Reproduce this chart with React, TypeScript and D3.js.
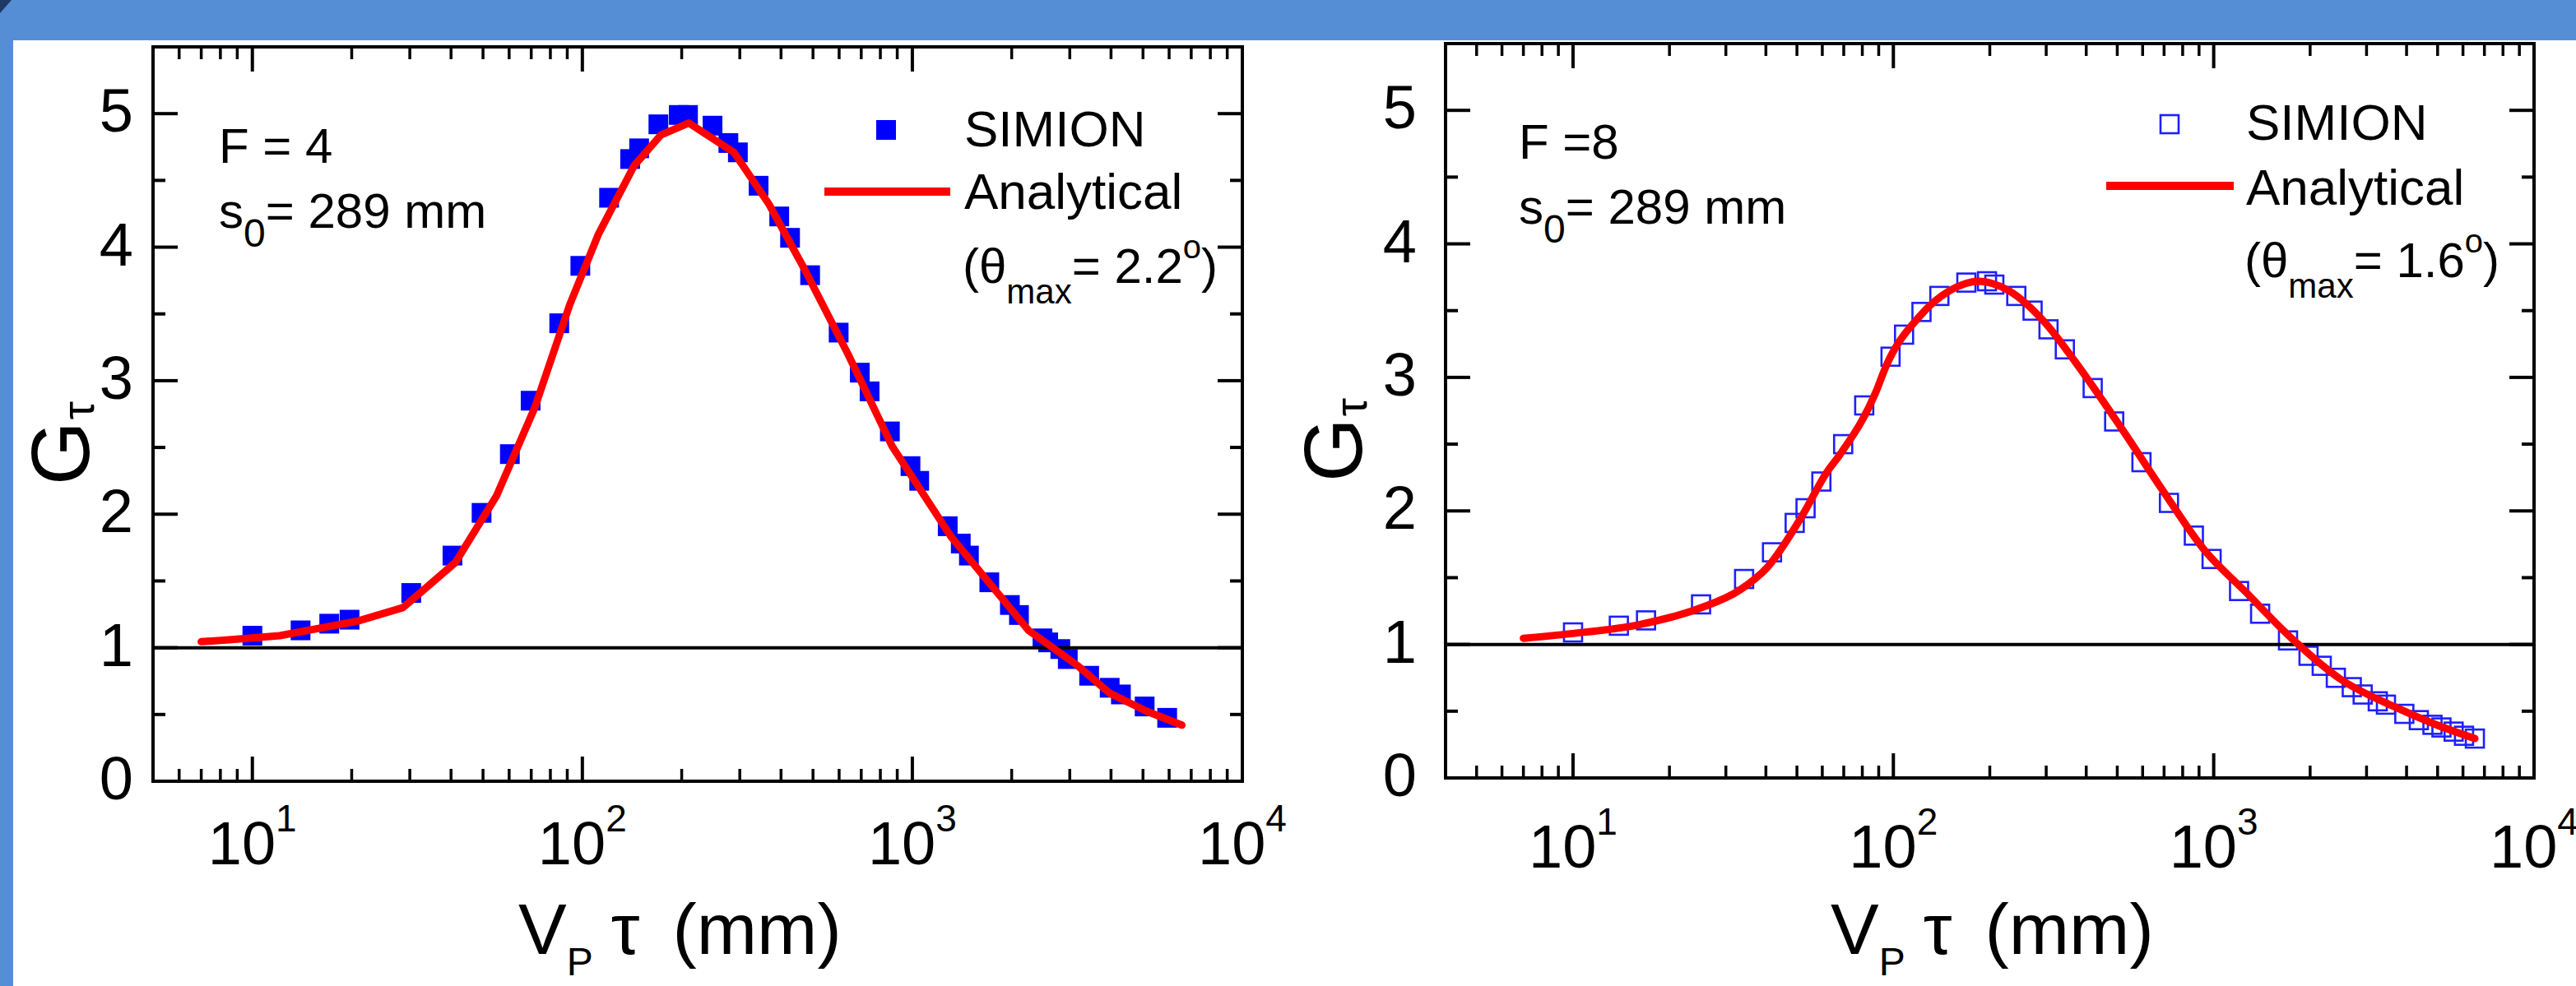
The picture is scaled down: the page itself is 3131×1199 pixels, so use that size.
import React from "react";
import * as d3 from "d3";

// F = 4 panel (filled squares)
const leftSimX = [10, 14, 17.1, 19.7, 30.3, 40.4, 49.5, 60.3, 69.7, 85.1, 98.6, 120.5, 139.6, 148.6, 170, 196, 209, 248, 277, 296, 342, 395, 426, 490, 598, 693, 742, 855, 987, 1049, 1280, 1402, 1484, 1711, 1975, 2104, 2479, 2580, 2808, 2958, 3434, 3963, 4286, 5058, 5918];
const leftSimY = [1.09, 1.13, 1.18, 1.21, 1.41, 1.69, 2.01, 2.45, 2.85, 3.43, 3.86, 4.37, 4.66, 4.74, 4.92, 4.99, 4.99, 4.91, 4.78, 4.71, 4.46, 4.23, 4.07, 3.79, 3.36, 3.06, 2.92, 2.62, 2.36, 2.25, 1.91, 1.78, 1.69, 1.49, 1.32, 1.245, 1.07, 1.04, 0.99, 0.915, 0.79, 0.7, 0.65, 0.56, 0.475];
const leftFitX = [7, 8.5, 12.1, 20.9, 28.6, 41.3, 55, 71.8, 91.6, 112, 143.5, 173, 210, 288, 368, 470, 638, 868, 1311, 1395, 2250, 3174, 3960, 5120, 6560];
const leftFitY = [1.045, 1.06, 1.09, 1.2, 1.3, 1.64, 2.14, 2.8, 3.57, 4.1, 4.61, 4.84, 4.93, 4.71, 4.32, 3.84, 3.2, 2.51, 1.83, 1.75, 1.13, 0.864, 0.66, 0.525, 0.42];

// F = 8 panel (open squares)
const rightSimX = [10, 13.9, 16.9, 25.1, 34.2, 41.8, 49.2, 53.2, 59.6, 69.7, 81.1, 98, 108, 122.4, 139.2, 169, 196, 206.6, 242, 272, 305, 343, 419, 489, 595, 725, 867, 985, 1200, 1396, 1706, 1977, 2174, 2406, 2698, 2918, 3252, 3449, 3936, 4369, 4819, 5140, 5610, 6045, 6535];
const rightSimY = [1.09, 1.14, 1.18, 1.3, 1.49, 1.69, 1.91, 2.02, 2.22, 2.5, 2.79, 3.155, 3.32, 3.49, 3.61, 3.71, 3.72, 3.695, 3.61, 3.5, 3.36, 3.21, 2.92, 2.67, 2.365, 2.06, 1.815, 1.64, 1.4, 1.23, 1.03, 0.915, 0.84, 0.75, 0.68, 0.625, 0.574, 0.549, 0.48, 0.433, 0.398, 0.378, 0.347, 0.316, 0.295];
const rightFitX = [7, 9.8, 16.2, 24.8, 33.3, 40.5, 51.8, 62, 68, 88, 94.7, 121, 150, 185, 229, 300, 370, 515, 695, 940, 1250, 1743, 2488, 3690, 4930, 6535];
const rightFitY = [1.046, 1.08, 1.15, 1.27, 1.41, 1.58, 1.96, 2.29, 2.42, 2.885, 3.08, 3.46, 3.65, 3.72, 3.65, 3.4, 3.115, 2.62, 2.15, 1.7, 1.4, 1.05, 0.74, 0.53, 0.4, 0.295];

const yTicks = [0, 1, 2, 3, 4, 5];
const yMinorTicks = [0.5, 1.5, 2.5, 3.5, 4.5, 5.5];
const xDecades = [1, 2, 3, 4];
const fLabels = ["F = 4", "F =8"];
const thetaLabels = ["2.2", "1.6"];

const W = 3131;
const H = 1199;
const FONT = "'Liberation Sans', Arial, sans-serif";
const BLUE_BG = "#558ed5";

const zip = (xs: number[], ys: number[]) => xs.map((x, i) => [x, ys[i]] as [number, number]);

const panels = [
  {
    sim: zip(leftSimX, leftSimY),
    fit: zip(leftFitX, leftFitY),
    xDomain: [5, 10000],
    xRange: [186, 1510],
    yRange: [950, 57],
    filled: true,
    curve: d3.curveLinear,
    F: fLabels[0],
    theta: thetaLabels[0],
    annX: 266, fY: 198, sY: 277,
    mark: [1077, 158], legX: 1172, simY: 178, lineX: [1002, 1155], lineY: 233, anaY: 254, thY: 344,
    yLabX: 162, xLabY: 1051, titleX: 630, gX: 108, gY: 590,
  },
  {
    sim: zip(rightSimX, rightSimY),
    fit: zip(rightFitX, rightFitY),
    xDomain: [4, 10000],
    xRange: [1757, 3080],
    yRange: [946, 53],
    filled: false,
    curve: d3.curveMonotoneX,
    F: fLabels[1],
    theta: thetaLabels[1],
    annX: 1846, fY: 193, sY: 272,
    mark: [2637, 151], legX: 2730, simY: 170, lineX: [2560, 2715], lineY: 226, anaY: 249, thY: 337,
    yLabX: 1722, xLabY: 1055, titleX: 2225, gX: 1655, gY: 586,
  },
];

function Panel({ p }: { p: (typeof panels)[number] }) {
  const x = d3.scaleLog().domain(p.xDomain).range(p.xRange);
  const y = d3.scaleLinear().domain([0, 5.5]).range(p.yRange);
  const [x0, x1] = p.xRange;
  const [yb, yt] = p.yRange;
  const line = d3
    .line<[number, number]>()
    .x((d) => x(d[0]))
    .y((d) => y(d[1]))
    .curve(p.curve);

  const minorX: number[] = [];
  for (let e = 0; e < 4; e++) {
    for (let m = 2; m <= 9; m++) {
      const v = m * Math.pow(10, e);
      if (v > p.xDomain[0] && v < p.xDomain[1]) minorX.push(v);
    }
  }
  const majorX = xDecades.map((e) => Math.pow(10, e));
  const MAJ = 30;
  const MIN = 15;
  const ms = p.filled ? 24 : 22;

  return (
    <g>
      {/* SIMION points */}
      {p.sim.map((d, i) =>
        p.filled ? (
          <rect key={i} x={x(d[0]) - ms / 2} y={y(d[1]) - ms / 2} width={ms} height={ms} fill="#0000ff" />
        ) : (
          <rect key={i} x={x(d[0]) - ms / 2} y={y(d[1]) - ms / 2} width={ms} height={ms} fill="none" stroke="#1f1fff" strokeWidth={2.6} />
        )
      )}
      {/* G = 1 reference line */}
      <line x1={x0} x2={x1} y1={y(1)} y2={y(1)} stroke="#000" strokeWidth={4} />
      {/* analytical curve */}
      <path d={line(p.fit) || ""} fill="none" stroke="#ff0000" strokeWidth={9} strokeLinejoin="round" strokeLinecap="round" />

      {/* frame + ticks */}
      <rect x={x0} y={yt} width={x1 - x0} height={yb - yt} fill="none" stroke="#000" strokeWidth={4} />
      {majorX.map((v) => (
        <g key={"M" + v}>
          <line x1={x(v)} x2={x(v)} y1={yb} y2={yb - MAJ} stroke="#000" strokeWidth={4} />
          <line x1={x(v)} x2={x(v)} y1={yt} y2={yt + MAJ} stroke="#000" strokeWidth={4} />
        </g>
      ))}
      {minorX.map((v) => (
        <g key={"m" + v}>
          <line x1={x(v)} x2={x(v)} y1={yb} y2={yb - MIN} stroke="#000" strokeWidth={3.5} />
          <line x1={x(v)} x2={x(v)} y1={yt} y2={yt + MIN} stroke="#000" strokeWidth={3.5} />
        </g>
      ))}
      {yTicks.map((v) => (
        <g key={"Y" + v}>
          <line x1={x0} x2={x0 + MAJ} y1={y(v)} y2={y(v)} stroke="#000" strokeWidth={4} />
          <line x1={x1} x2={x1 - MAJ} y1={y(v)} y2={y(v)} stroke="#000" strokeWidth={4} />
        </g>
      ))}
      {yMinorTicks.map((v) => (
        <g key={"y" + v}>
          <line x1={x0} x2={x0 + MIN} y1={y(v)} y2={y(v)} stroke="#000" strokeWidth={4} />
          <line x1={x1} x2={x1 - MIN} y1={y(v)} y2={y(v)} stroke="#000" strokeWidth={4} />
        </g>
      ))}

      {/* tick labels */}
      <g fontFamily={FONT} fill="#000">
        {yTicks.map((v) => (
          <text key={"yl" + v} x={p.yLabX} y={y(v) + 22} fontSize={74} textAnchor="end">
            {v}
          </text>
        ))}
        {xDecades.map((e) => (
          <text key={"xl" + e} x={x(Math.pow(10, e))} y={p.xLabY} fontSize={74} textAnchor="middle">
            10
            <tspan dy={-40} fontSize={46}>
              {e}
            </tspan>
          </text>
        ))}

        {/* axis titles */}
        <text x={p.titleX} y={1160} fontSize={88}>
          V
          <tspan dy={26} fontSize={48}>
            P
          </tspan>
          <tspan dy={-26} dx={22}>
            τ
          </tspan>
          <tspan dx={40}>(mm)</tspan>
        </text>
        <text transform={`translate(${p.gX},${p.gY}) rotate(-90)`} fontSize={100}>
          G
          <tspan dy={6} dx={2} fontSize={56}>
            τ
          </tspan>
        </text>

        {/* annotations */}
        <text x={p.annX} y={p.fY} fontSize={60}>
          {p.F}
        </text>
        <text x={p.annX} y={p.sY} fontSize={60}>
          s
          <tspan dy={23} fontSize={48}>
            0
          </tspan>
          <tspan dy={-23}>= 289 mm</tspan>
        </text>

        {/* legend */}
        {p.filled ? (
          <rect x={p.mark[0] - 12} y={p.mark[1] - 12} width={24} height={24} fill="#0000ff" />
        ) : (
          <rect x={p.mark[0] - 11} y={p.mark[1] - 11} width={22} height={22} fill="none" stroke="#1f1fff" strokeWidth={2.6} />
        )}
        <text x={p.legX} y={p.simY} fontSize={62}>
          SIMION
        </text>
        <line x1={p.lineX[0]} x2={p.lineX[1]} y1={p.lineY} y2={p.lineY} stroke="#ff0000" strokeWidth={10} />
        <text x={p.legX} y={p.anaY} fontSize={62}>
          Analytical
        </text>
        <text x={p.legX - 2} y={p.thY} fontSize={60}>
          (θ
          <tspan dy={25} fontSize={42}>
            max
          </tspan>
          <tspan dy={-25}>{"= " + p.theta}</tspan>
          <tspan dy={-30} fontSize={40}>
            o
          </tspan>
          <tspan dy={30}>)</tspan>
        </text>
      </g>
    </g>
  );
}

export default function App() {
  return (
    <svg
      width={W}
      height={H}
      viewBox={`0 0 ${W} ${H}`}
      style={{ position: "absolute", left: 0, top: 0, background: "#fff" }}
    >
      <rect x={0} y={0} width={W} height={H} fill="#fff" />
      <rect x={0} y={0} width={W} height={49} fill={BLUE_BG} />
      <rect x={0} y={0} width={16} height={H} fill={BLUE_BG} />
      <polygon points="0,0 14,0 0,16" fill="#1f3864" />
      {panels.map((p, i) => (
        <Panel key={i} p={p} />
      ))}
    </svg>
  );
}
